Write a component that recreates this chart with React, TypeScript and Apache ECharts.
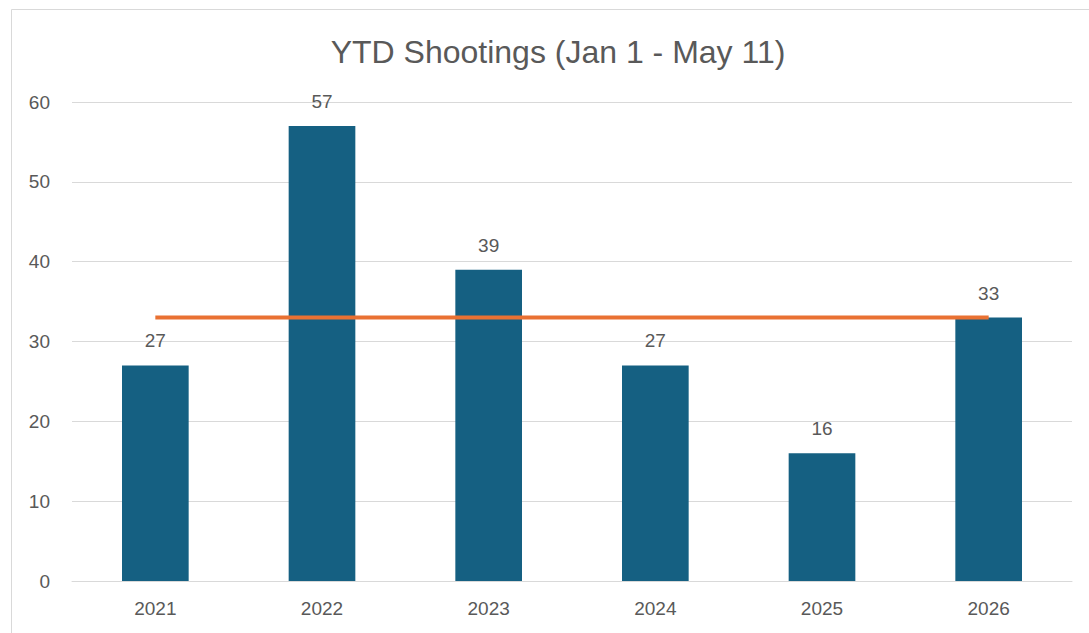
import React, { useEffect, useRef } from "react";
import * as echarts from "echarts";

const categories = ["2021", "2022", "2023", "2024", "2025", "2026"];
const shootings = [27, 57, 39, 27, 16, 33];
const referenceLine = [33, 33, 33, 33, 33, 33];
const yTicks = { min: 0, max: 60, interval: 10 };
const titleText = "YTD Shootings (Jan 1 - May 11)";

export default function App() {
  const ref = useRef<HTMLDivElement>(null);
  useEffect(() => {
    if (!ref.current) return;
    const chart = echarts.init(ref.current, null, { renderer: "svg" });
    const font = "Liberation Sans, Arial, sans-serif";
    chart.setOption({
      animation: false,
      backgroundColor: "#ffffff",
      textStyle: { fontFamily: font },
      title: {
        text: titleText,
        left: 553,
        top: 31,
        textAlign: "center",
        textStyle: { fontSize: 32, fontWeight: "normal", color: "#595959", fontFamily: font },
      },
      graphic: [
        {
          type: "rect",
          shape: { x: 11.5, y: 9.5, width: 1200, height: 800 },
          style: { fill: "none", stroke: "#d9d9d9", lineWidth: 1 },
          silent: true,
        },
      ],
      grid: { left: 72, right: 17, top: 102, bottom: 52, containLabel: false },
      xAxis: {
        type: "category",
        data: categories,
        axisLine: { show: true, lineStyle: { color: "#d9d9d9", width: 1 } },
        axisTick: { show: false },
        axisLabel: { color: "#595959", fontSize: 19, margin: 18, fontFamily: font },
      },
      yAxis: {
        type: "value",
        min: yTicks.min,
        max: yTicks.max,
        interval: yTicks.interval,
        axisLine: { show: false },
        axisTick: { show: false },
        splitLine: { lineStyle: { color: "#d9d9d9", width: 1 } },
        axisLabel: { color: "#595959", fontSize: 19, margin: 22, fontFamily: font },
      },
      series: [
        {
          type: "bar",
          data: shootings,
          barCategoryGap: "60%",
          itemStyle: { color: "#156082" },
          label: {
            show: true,
            position: "top",
            distance: 15,
            color: "#595959",
            fontSize: 19,
            fontFamily: font,
          },
        },
        {
          type: "line",
          data: referenceLine,
          symbol: "none",
          lineStyle: { color: "#e97132", width: 4 },
          z: 3,
        },
      ],
    });
    return () => chart.dispose();
  }, []);
  return (
    <div
      ref={ref}
      style={{ position: "fixed", left: 0, top: 0, width: 1089, height: 633 }}
    />
  );
}
